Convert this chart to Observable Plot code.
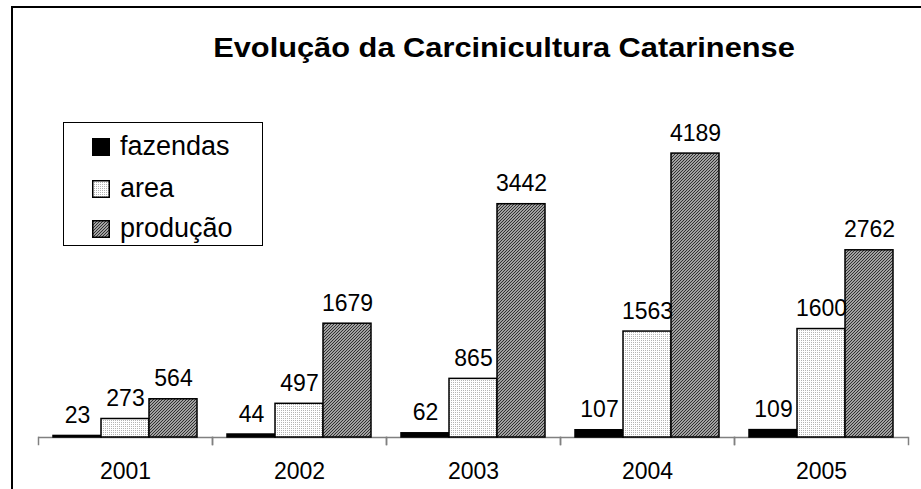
<!DOCTYPE html>
<html>
<head>
<meta charset="utf-8">
<script src="https://cdn.jsdelivr.net/npm/d3@7"></script>
<script src="https://cdn.jsdelivr.net/npm/@observablehq/plot@0.6"></script>
<style>
  html, body { margin: 0; padding: 0; background: #fff; }
  #wrap { position: relative; width: 921px; height: 489px; overflow: hidden; font-family: "Liberation Sans", Arial, sans-serif; }
  #border { position: absolute; left: 11px; top: 6px; width: 960px; height: 520px; border-left: 2px solid #000; border-top: 2px solid #000; }
  #chart { position: absolute; left: 0; top: 0; }
  #title { position: absolute; left: 0; width: 1008px; top: 35px; text-align: center; font-weight: bold; font-size: 27px; line-height: 27px; color: #000; transform: scaleX(1.14); transform-origin: 504px 0; white-space: nowrap; }
  #legend { position: absolute; left: 63px; top: 122px; width: 198px; height: 122px; border: 1px solid #000; background: #fff; }
  .row { position: absolute; left: 0; height: 27px; }
  .row svg { position: absolute; left: 28px; }
  .row span { position: absolute; left: 56px; font-size: 27px; line-height: 27px; white-space: nowrap; color: #000; }
</style>
</head>
<body>
<svg width="0" height="0" style="position:absolute">
  <defs>
    <pattern id="dots" width="2" height="2" patternUnits="userSpaceOnUse">
      <rect width="2" height="2" fill="#ffffff"/>
      <rect width="1" height="1" fill="#b4b4b4"/>
    </pattern>
    <pattern id="hatch" width="3" height="3" patternUnits="userSpaceOnUse">
      <rect width="3" height="3" fill="#d4d4d4"/>
      <path d="M-1,1 L1,-1 M0,3 L3,0 M2,4 L4,2" stroke="#2a2a2a" stroke-width="1.15"/>
    </pattern>
  </defs>
</svg>
<div id="wrap">
  <div id="border"></div>
  <div id="chart"></div>
  <div id="title"></div>
  <div id="legend"></div>
</div>
<script>
const titleText = "Evolução da Carcinicultura Catarinense";
const years = ["2001", "2002", "2003", "2004", "2005"];
const series = ["fazendas", "area", "produção"];
const fazendas = [23, 44, 62, 107, 109];
const area = [273, 497, 865, 1563, 1600];
const producao = [564, 1679, 3442, 4189, 2762];
const fills = ["#000000", "url(#dots)", "url(#hatch)"];

const valuesBySeries = [fazendas, area, producao];
const data = [];
years.forEach((yr, i) => {
  series.forEach((s, j) => data.push({year: yr, serie: s, value: valuesBySeries[j][i]}));
});

const chart = Plot.plot({
  width: 921,
  height: 489,
  marginLeft: 37,
  marginRight: 11.5,
  marginTop: 132,
  marginBottom: 52,
  style: {fontFamily: "'Liberation Sans', Arial, sans-serif", fontSize: "23px", background: "transparent", color: "#000"},
  fx: {domain: years, padding: 0, label: null},
  x: {domain: series, axis: null, paddingInner: 0, paddingOuter: 0.28},
  y: {domain: [0, 4500], axis: null},
  color: {domain: series, range: fills},
  marks: [
    Plot.ruleY([0], {stroke: "#808080", strokeWidth: 1.5}),
    Plot.frame({anchor: "left", stroke: "#808080", strokeWidth: 1.5, insetTop: 305, insetBottom: -7}),
    Plot.frame({anchor: "right", stroke: "#808080", strokeWidth: 1.5, insetTop: 305, insetBottom: -7}),
    Plot.barY(data, {fx: "year", x: "serie", y: "value", fill: "serie", stroke: "#000", strokeWidth: 1.5}),
    Plot.text(data, {fx: "year", x: "serie", y: "value", text: d => String(d.value), lineAnchor: "bottom", dy: -13, fontSize: 23, fill: "#000"}),
    Plot.axisFx({anchor: "bottom", tickSize: 0, tickPadding: 25, fontSize: 23, label: null, fill: "#000"})
  ]
});
document.getElementById("chart").appendChild(chart);
document.getElementById("title").textContent = titleText;

const legend = document.getElementById("legend");
const rowTops = [10, 52, 92];
series.forEach((s, j) => {
  const row = document.createElement("div");
  row.className = "row";
  row.style.top = rowTops[j] + "px";
  row.innerHTML = `<svg width="18" height="18" style="top:5px"><rect x="0.75" y="0.75" width="16.5" height="16.5" fill="${fills[j]}" stroke="#000" stroke-width="1.5"/></svg><span>${s}</span>`;
  legend.appendChild(row);
});
</script>
</body>
</html>
